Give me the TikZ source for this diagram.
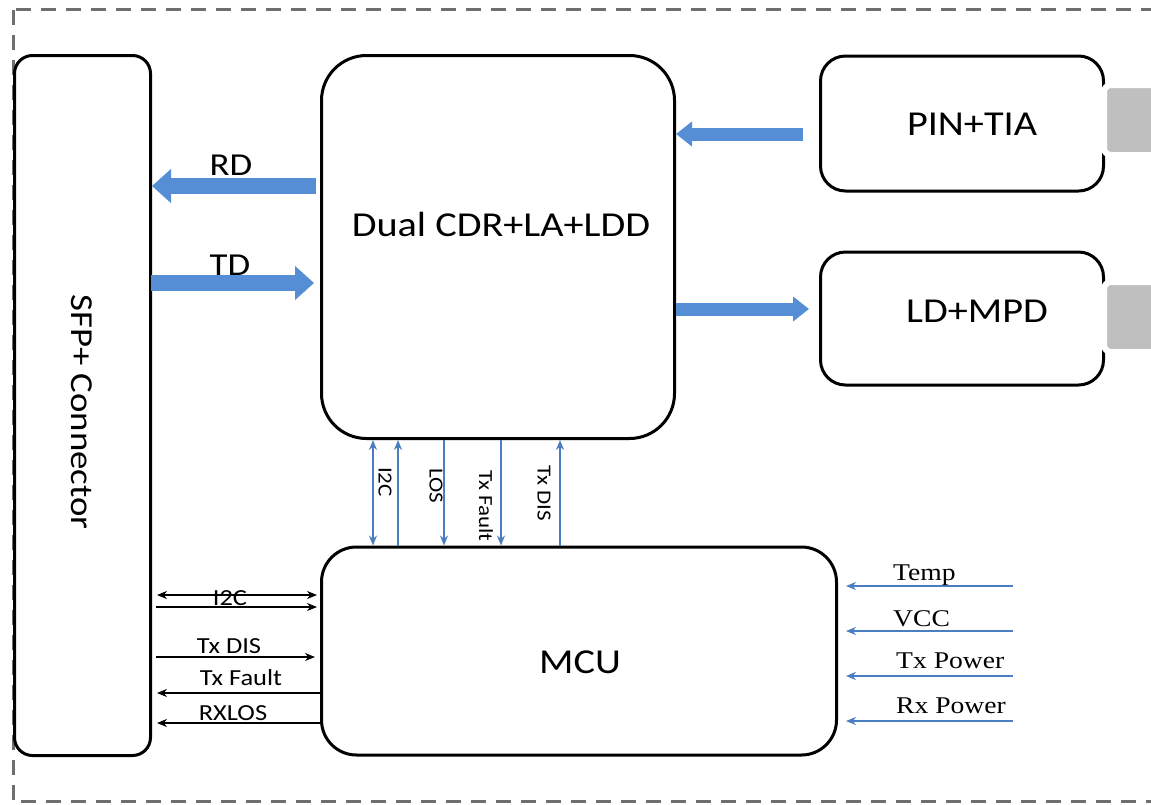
\documentclass[tikz,border=0pt]{standalone}
\usepackage{fontspec}
\setmainfont{Carlito}[FakeStretch=1.15]
\newfontfamily\timesfont{Liberation Serif}[FakeStretch=1.15]
\usetikzlibrary{arrows.meta}
\tikzset{>={Stealth[length=10pt,width=8pt]}}
\definecolor{arrowblue}{RGB}{85,142,213}
\definecolor{lineblue}{RGB}{74,126,193}
\definecolor{plug}{RGB}{191,191,191}
\definecolor{frame}{RGB}{110,110,110}
\tikzset{
  box/.style={draw, line width=3pt, inner sep=0pt},
  plugbox/.style={fill=plug, draw=white, line width=6pt, rounded corners=7pt},
  fat/.style={arrowblue, line width=16pt, -{Triangle[length=19pt,width=33pt]}},
  slim/.style={arrowblue, line width=13pt, -{Triangle[length=16pt,width=24pt]}},
  sig/.style={line width=1.2pt},
  bsig/.style={lineblue, line width=1.4pt},
  big/.style={font=\fontsize{35}{42}\selectfont},
  mid/.style={font=\fontsize{32}{38}\selectfont},
  small/.style={font=\fontsize{23}{27}\selectfont},
  tiny/.style={font=\fontsize{20}{24}\selectfont, rotate=-90},
  serif/.style={font=\timesfont\fontsize{24}{28}\selectfont, anchor=base west, inner sep=0pt}
}
\begin{document}
\begin{tikzpicture}[x=1pt, y=-1pt]
\useasboundingbox (0,0) rectangle (1151,804);
\draw[frame, line width=3pt, dash pattern=on 15pt off 10pt] (13,9.5) rectangle (1180,801.5);

\node[box, rounded corners=18pt, minimum width=136pt, minimum height=700pt] (sfp) at (82.5,405.5) {};
\node[box, rounded corners=45pt, minimum width=353pt, minimum height=383pt] (cdr) at (498,247) {};
\node[box, rounded corners=25pt, minimum width=283pt, minimum height=135pt] (pin) at (962,123.5) {};
\node[box, rounded corners=25pt, minimum width=283pt, minimum height=133pt] (ld) at (962,318.5) {};
\node[box, rounded corners=35pt, minimum width=515pt, minimum height=208pt] (mcu) at (579,651) {};
\draw[plugbox] (1104,85) rectangle (1180,155);
\draw[plugbox] (1104,282) rectangle (1180,352);

\node[mid, rotate=-90] (sfplabel) at (82,412) {SFP+ Connector};
\node[big, anchor=base] (cdrlabel) at (501,236) {Dual CDR+LA+LDD};
\node[big, anchor=base] (pinlabel) at (972,135) {PIN+TIA};
\node[big, anchor=base] (ldlabel) at (977,322) {LD+MPD};
\node[big, anchor=base] (mculabel) at (580,673) {MCU};

\draw[fat] ([xshift=-4pt]cdr.west |- 0,186) -- (sfp.east |- 0,186);
\draw[fat, shorten >=6pt] ([xshift=-1pt]sfp.east |- 0,283) -- (cdr.west |- 0,283);
\node[mid, anchor=base] (rd) at (231,175) {RD};
\node[mid, anchor=base] (td) at (230,275) {TD};
\draw[slim] ([xshift=-16pt]pin.west |- 0,134) -- (cdr.east |- 0,134);
\draw[slim, shorten >=10pt] (cdr.east |- 0,309) -- (ld.west |- 0,309);

\draw[bsig, <->] (cdr.south -| 373,0) -- (mcu.north -| 373,0);
\draw[bsig, ->] (mcu.north -| 398,0) -- (cdr.south -| 398,0);
\draw[bsig, ->] (cdr.south -| 444,0) -- (mcu.north -| 444,0);
\draw[bsig, ->] (cdr.south -| 501,0) -- (mcu.north -| 501,0);
\draw[bsig, ->] (mcu.north -| 560,0) -- (cdr.south -| 560,0);
\node[tiny] (i2cv) at (385,482) {I2C};
\node[tiny] (losv) at (436,486) {LOS};
\node[tiny] (faultv) at (486,506) {Tx Fault};
\node[tiny] (disv) at (544,493) {Tx DIS};

\draw[sig, <->, shorten <=5pt, shorten >=3pt] (sfp.east |- 0,595) -- (mcu.west |- 0,595);
\draw[sig, ->, shorten <=4pt, shorten >=3pt] (sfp.east |- 0,607) -- (mcu.west |- 0,607);
\draw[sig, ->, shorten <=4pt, shorten >=5pt] (sfp.east |- 0,657) -- (mcu.west |- 0,657);
\draw[sig, ->, shorten >=5pt] (mcu.west |- 0,693) -- (sfp.east |- 0,693);
\draw[sig, ->, shorten >=5pt] (mcu.west |- 0,723) -- (sfp.east |- 0,723);
\node[small, anchor=base] (i2ch) at (230,605) {I2C};
\node[small, anchor=base] (dish) at (229,653) {Tx DIS};
\node[small, anchor=base] (faulth) at (241,685) {Tx Fault};
\node[small, anchor=base] (rxlos) at (233,720) {RXLOS};

\coordinate (temp) at (1013,586);
\coordinate (vcc) at (1013,631);
\coordinate (txp) at (1013,676);
\coordinate (rxp) at (1013,721);
\draw[bsig, ->, shorten >=8pt] (temp) -- (mcu.east |- temp);
\draw[bsig, ->, shorten >=8pt] (vcc) -- (mcu.east |- vcc);
\draw[bsig, ->, shorten >=8pt] (txp) -- (mcu.east |- txp);
\draw[bsig, ->, shorten >=8pt] (rxp) -- (mcu.east |- rxp);
\node[serif] (templabel) at (893,580) {Temp};
\node[serif] (vcclabel) at (893,626) {VCC};
\node[serif] (txplabel) at (896,668) {Tx Power};
\node[serif] (rxplabel) at (896,713) {Rx Power};
\end{tikzpicture}
\end{document}
